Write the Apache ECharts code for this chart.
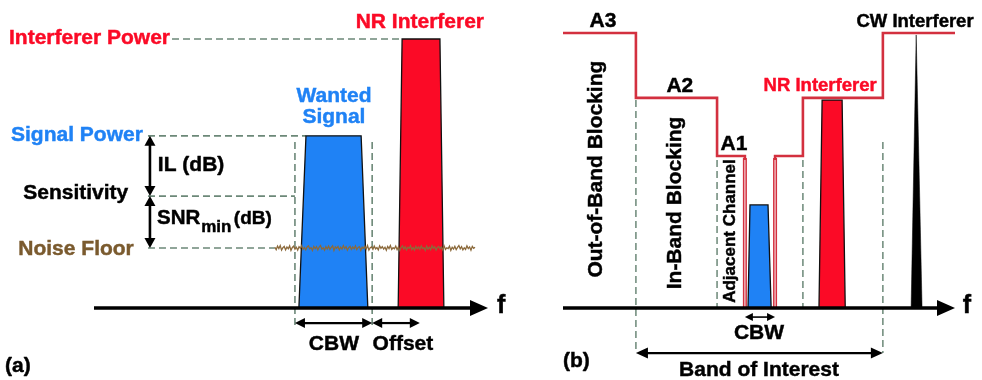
<!DOCTYPE html>
<html>
<head>
<meta charset="utf-8">
<script src="https://cdn.jsdelivr.net/npm/echarts@6/dist/echarts.min.js"></script>
<style>
  html, body { margin: 0; padding: 0; background: #ffffff; }
  #chart { width: 982px; height: 380px; }
</style>
</head>
<body>
<div id="chart"></div>
<script>
// ---------- Panel (a): levels relative to the spectrum baseline (dB, arbitrary scale) ----------
const levelNamesA = ['Interferer Power', 'Signal Power', 'Sensitivity', 'Noise Floor'];
const levelValuesA = [100, 64, 41.6, 22.3];

// frequency axis in arbitrary units (0 .. 100)
const wantedBottomA = [52.0, 69.5];
const wantedTopA = [53.8, 67.8];
const wantedLevelA = 64;

const nrBottomA = [77.2, 88.8];
const nrTopA = [78.2, 87.8];
const nrLevelA = 100;

const channelEdgesA = [51.0, 70.6];
const offsetEndA = 82.7;

const noiseSpanA = [45.9, 96.7];
const noiseJitterA = [0.3, -0.6, 0.7, -0.2, 0.9, -0.8, 0.1, 0.6, -0.7, 0.4, -0.3, 0.8, -0.9, 0.2, 0.7, -0.4,
  0.3, -0.8, 0.5, -0.1, 0.9, -0.5, 0.2, -0.7, 0.4, 0.8, -0.3, 0.1, -0.9, 0.6, -0.2, 0.5, -0.7, 0.3, 0.9, -0.4,
  0.1, -0.8, 0.5, -0.3, 0.7, -0.5, 0.2, 0.8, -0.9, 0.4, -0.1, 0.6, -0.7, 0.3, -0.4, 0.9, -0.2, 0.5, -0.8, 0.1,
  0.6, -0.5, 0.4, -0.3, 0.8, -0.6, 0.2, 0.5, -0.9, 0.3, -0.2, 0.7, -0.4, 0.9, -0.8, 0.1, 0.4, -0.5, 0.7, -0.3,
  0.2, -0.7, 0.8, -0.1, 0.5, -0.4, 0.3, -0.8, 0.6, -0.2, 0.9, -0.5, 0.1, -0.3, 0.7, -0.6, 0.4, -0.9, 0.2, 0.8,
  -0.4, 0.5, -0.7, 0.3, -0.1, 0.9, -0.6, 0.2, -0.8, 0.6, -0.3, 0.4, -0.5, 0.8, -0.2, 0.1, -0.9, 0.7, -0.4, 0.3,
  -0.6, 0.9, -0.1, 0.5, -0.8, 0.2, 0.6, -0.3, 0.4, -0.7, 0.8, -0.5, 0.1, -0.2, 0.7, -0.9, 0.3, -0.4, 0.6, -0.6,
  0.2, 0.9, -0.3, 0.5, -0.7, 0.1, -0.5, 0.8, -0.2, 0.4, -0.8, 0.6, -0.1, 0.3];

// ---------- Panel (b): blocking mask ----------
const maskLabels = ['A3', 'A2', 'A1'];
const maskLevels = [100, 76.4, 55.3];
const maskEdgesLeft = [0, 18.6, 39.3, 46.4];
const maskEdgesRight = [54.1, 61.2, 81.6, 100];

const wantedBottomB = [47.2, 53.1];
const wantedTopB = [47.7, 52.3];
const wantedLevelB = 37.5;

const nrBottomB = [65.3, 72.0];
const nrTopB = [66.1, 71.2];
const nrLevelB = 75.6;

const cwBottom = [88.8, 91.6];
const cwPeakFreq = 90.1;
const cwLevel = 99.3;

const bandOfInterest = [18.6, 81.6];
const cbwB = [46.4, 54.1];

// ---------- drawing helpers ----------
const FONT = '"Liberation Sans", Arial, sans-serif';
const RED = '#fb0a26';
const BLUE = '#1f82f5';
const BROWN = '#7a5a2e';
const GUIDE = '#6c8878';
const MASK = '#d3303f';

function font(size) { return 'bold ' + size + 'px ' + FONT; }

function label(x, y, text, color, size, align, rotation) {
  return function (api) {
    const p = api.coord([x, y]);
    return {
      type: 'text', x: p[0], y: p[1], rotation: rotation || 0,
      style: {
        text: text, fill: color, font: font(size), align: align || 'center', verticalAlign: 'middle',
        stroke: color, lineWidth: 0.45
      }
    };
  };
}

function poly(points, fill, stroke, lw) {
  return function (api) {
    return {
      type: 'polygon',
      shape: { points: points.map(function (q) { return api.coord(q); }) },
      style: { fill: fill, stroke: stroke, lineWidth: lw || 0 }
    };
  };
}

function path(points, stroke, lw, dash) {
  return function (api) {
    return {
      type: 'polyline',
      shape: { points: points.map(function (q) { return api.coord(q); }) },
      style: { fill: null, stroke: stroke, lineWidth: lw, lineDash: dash || null, lineJoin: 'miter' }
    };
  };
}

function headAt(tip, dir, len, half) {
  const nx = -dir[1], ny = dir[0];
  const bx = tip[0] - dir[0] * len, by = tip[1] - dir[1] * len;
  return [[tip[0], tip[1]], [bx + nx * half, by + ny * half], [bx - nx * half, by - ny * half]];
}

// arrow between two data points; heads: 'both' or 'end'
function arrow(a, b, color, lw, len, half, heads) {
  return function (api) {
    const p = api.coord(a), q = api.coord(b);
    const dx = q[0] - p[0], dy = q[1] - p[1];
    const d = Math.sqrt(dx * dx + dy * dy);
    const u = [dx / d, dy / d];
    const both = heads !== 'end';
    const s = both ? [p[0] + u[0] * len * 0.8, p[1] + u[1] * len * 0.8] : p;
    const e = [q[0] - u[0] * len * 0.8, q[1] - u[1] * len * 0.8];
    const children = [{
      type: 'line', shape: { x1: s[0], y1: s[1], x2: e[0], y2: e[1] },
      style: { stroke: color, lineWidth: lw }
    }, {
      type: 'polygon', shape: { points: headAt(q, u, len, half) }, style: { fill: color }
    }];
    if (both) {
      children.push({ type: 'polygon', shape: { points: headAt(p, [-u[0], -u[1]], len, half) }, style: { fill: color } });
    }
    return { type: 'group', children: children };
  };
}

function layer(gridIndex, items, z) {
  return {
    type: 'custom', xAxisIndex: gridIndex, yAxisIndex: gridIndex, z: z, clip: false, silent: true,
    data: items.map(function (_, i) { return [i, 0]; }),
    renderItem: function (params, api) { return items[params.dataIndex](api); }
  };
}

// ---------- panel (a) ----------
const noisePts = noiseJitterA.map(function (j, i) {
  const t = i / (noiseJitterA.length - 1);
  return [noiseSpanA[0] + t * (noiseSpanA[1] - noiseSpanA[0]), levelValuesA[3] + j];
});

const guidesA = [
  path([[19.8, levelValuesA[0]], [nrTopA[0], levelValuesA[0]]], GUIDE, 1.6, [7, 4]),
  path([[13.7, levelValuesA[1]], [wantedTopA[0], levelValuesA[1]]], GUIDE, 1.6, [7, 4]),
  path([[13.7, levelValuesA[2]], [channelEdgesA[0], levelValuesA[2]]], GUIDE, 1.6, [7, 4]),
  path([[13.7, levelValuesA[3]], [noiseSpanA[0], levelValuesA[3]]], GUIDE, 1.6, [7, 4]),
  path([[channelEdgesA[0], 61.7], [channelEdgesA[0], -7.1]], GUIDE, 1.6, [7, 4]),
  path([[channelEdgesA[1], 61.7], [channelEdgesA[1], -7.1]], GUIDE, 1.6, [7, 4])
];

const marksA = [
  poly([[wantedBottomA[0], 0], [wantedTopA[0], wantedLevelA], [wantedTopA[1], wantedLevelA], [wantedBottomA[1], 0]], BLUE, '#111', 1.3),
  poly([[nrBottomA[0], 0], [nrTopA[0], nrLevelA], [nrTopA[1], nrLevelA], [nrBottomA[1], 0]], RED, '#111', 1.3),
  path(noisePts, '#8c6a3c', 1.3),
  arrow([0, 0], [100, 0], '#000', 3.5, 18, 8, 'end'),
  arrow([14.2, levelValuesA[1]], [14.2, levelValuesA[2]], '#000', 2.6, 10, 5.5, 'both'),
  arrow([14.2, levelValuesA[2]], [14.2, levelValuesA[3]], '#000', 2.6, 10, 5.5, 'both'),
  arrow([channelEdgesA[0], -5.6], [channelEdgesA[1], -5.6], '#000', 2.2, 10, 5, 'both'),
  arrow([channelEdgesA[1], -5.6], [offsetEndA, -5.6], '#000', 2.2, 10, 5, 'both')
];

const textA = [
  label(82.7, 106.3, 'NR Interferer', RED, 21),
  label(19.3, 100.4, levelNamesA[0], RED, 21, 'right'),
  label(60.9, 78.8, 'Wanted', BLUE, 21),
  label(60.9, 70.9, 'Signal', BLUE, 21),
  label(12.4, 64.2, levelNamesA[1], BLUE, 21, 'right'),
  label(16.2, 53.2, 'IL (dB)', '#000', 21, 'left'),
  label(8.7, 42.8, levelNamesA[2], '#000', 21, 'right'),
  label(16.0, 33.3, 'SNR', '#000', 20.5, 'left'),
  label(27.2, 30.1, 'min', '#000', 17, 'left'),
  label(35.5, 33.3, '(dB)', '#000', 19, 'left'),
  label(10.1, 22.0, levelNamesA[3], BROWN, 21, 'right'),
  label(60.9, -13.4, 'CBW', '#000', 21),
  label(78.4, -13.4, 'Offset', '#000', 21),
  label(-22.6, -21.6, '(a)', '#000', 21, 'left'),
  label(102.3, 0.6, 'f', '#000', 25, 'left')
];

// ---------- panel (b) ----------
const maskLeftPts = [];
for (let i = 0; i < maskLevels.length; i++) {
  maskLeftPts.push([maskEdgesLeft[i], maskLevels[i]], [maskEdgesLeft[i + 1], maskLevels[i]]);
}
maskLeftPts.push([maskEdgesLeft[maskEdgesLeft.length - 1], 0]);

const maskRightPts = [[maskEdgesRight[0], 0]];
for (let i = 0; i < maskLevels.length; i++) {
  const lvl = maskLevels[maskLevels.length - 1 - i];
  maskRightPts.push([maskEdgesRight[i], lvl], [maskEdgesRight[i + 1], lvl]);
}

// the two walls of the wanted channel are drawn as a doubled red rule
function channelWall(x, top) {
  return function (api) {
    const t = api.coord([x, top]), b = api.coord([x, 0]);
    return {
      type: 'group', children: [
        { type: 'line', shape: { x1: t[0], y1: t[1] + 2, x2: b[0], y2: b[1] }, style: { stroke: MASK, lineWidth: 4 } },
        { type: 'line', shape: { x1: t[0], y1: t[1] + 4, x2: b[0], y2: b[1] }, style: { stroke: '#f6d3d6', lineWidth: 1.2 } }
      ]
    };
  };
}

const guidesB = [
  path([[bandOfInterest[0], maskLevels[1] - 0.8], [bandOfInterest[0], -16.4]], GUIDE, 1.5, [7, 4]),
  path([[maskEdgesLeft[2], maskLevels[2] - 1.5], [maskEdgesLeft[2], 0]], GUIDE, 1.5, [7, 4]),
  path([[maskEdgesRight[1], maskLevels[2] - 1.5], [maskEdgesRight[1], 0]], GUIDE, 1.5, [7, 4]),
  path([[bandOfInterest[1], 60.4], [bandOfInterest[1], -16.4]], GUIDE, 1.5, [7, 4])
];

const marksB = [
  path(maskLeftPts, MASK, 2.6),
  path(maskRightPts, MASK, 2.6),
  channelWall(maskEdgesLeft[3], maskLevels[2]),
  channelWall(maskEdgesRight[0], maskLevels[2]),
  poly([[wantedBottomB[0], 0], [wantedTopB[0], wantedLevelB], [wantedTopB[1], wantedLevelB], [wantedBottomB[1], 0]], BLUE, '#111', 1.3),
  poly([[nrBottomB[0], 0], [nrTopB[0], nrLevelB], [nrTopB[1], nrLevelB], [nrBottomB[1], 0]], RED, '#111', 1.3),
  poly([[cwBottom[0], 0], [cwPeakFreq, cwLevel], [cwBottom[1], 0]], '#000', '#000', 0.5),
  arrow([0, 0], [100, 0], '#000', 3.5, 18, 8, 'end'),
  arrow([cbwB[0], -3.3], [cbwB[1], -3.3], '#000', 1.6, 8, 4, 'both'),
  arrow([bandOfInterest[0], -16.4], [bandOfInterest[1], -16.4], '#000', 2.2, 12, 5.5, 'both')
];

const ROT = Math.PI / 2;
const textB = [
  label(10.2, 104.2, maskLabels[0], '#000', 21),
  label(29.8, 80.6, maskLabels[1], '#000', 21),
  label(43.6, 59.5, maskLabels[2], '#000', 21),
  label(65.6, 80.9, 'NR Interferer', RED, 18.5),
  label(89.8, 104.2, 'CW Interferer', '#000', 18.5),
  label(8.4, 50.5, 'Out-of-Band Blocking', '#000', 21, 'center', ROT),
  label(28.6, 38.2, 'In-Band Blocking', '#000', 21, 'center', ROT),
  label(42.6, 28.0, 'Adjacent Channel', '#000', 17, 'center', ROT),
  label(50.0, -9.1, 'CBW', '#000', 21),
  label(0.0, -19.3, '(b)', '#000', 21, 'left'),
  label(50.0, -22.5, 'Band of Interest', '#000', 21),
  label(102.0, 0.6, 'f', '#000', 25, 'left')
];

const chart = echarts.init(document.getElementById('chart'), null, { renderer: 'canvas' });
const hiddenAxis = { type: 'value', min: 0, max: 100, show: false };
chart.setOption({
  backgroundColor: '#ffffff',
  animation: false,
  grid: [
    { left: 94, top: 39, width: 394, height: 269 },
    { left: 563, top: 33, width: 392, height: 275 }
  ],
  xAxis: [Object.assign({ gridIndex: 0 }, hiddenAxis), Object.assign({ gridIndex: 1 }, hiddenAxis)],
  yAxis: [Object.assign({ gridIndex: 0 }, hiddenAxis), Object.assign({ gridIndex: 1 }, hiddenAxis)],
  series: [
    layer(0, guidesA, 1),
    layer(0, marksA, 2),
    layer(0, textA, 3),
    layer(1, guidesB, 1),
    layer(1, marksB, 2),
    layer(1, textB, 3)
  ]
});
</script>
</body>
</html>
